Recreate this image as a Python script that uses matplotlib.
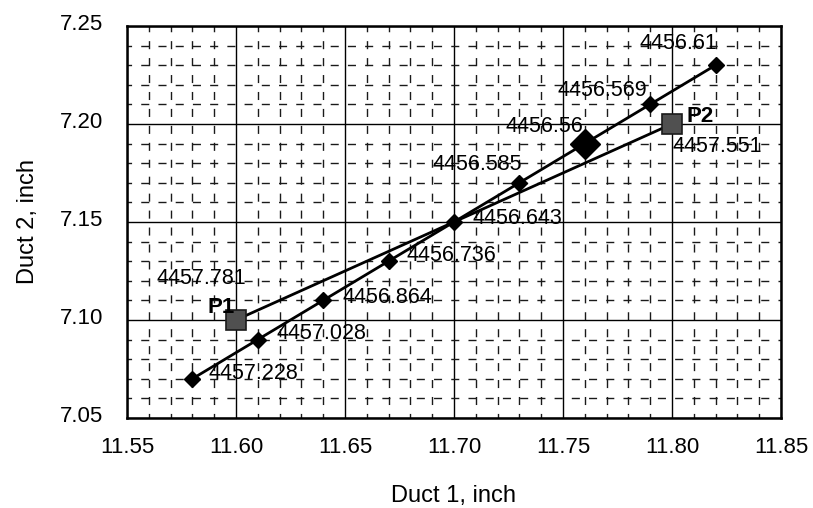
import matplotlib
matplotlib.use("Agg")
import matplotlib.pyplot as plt
import matplotlib.transforms as mtransforms
from matplotlib.ticker import MultipleLocator

plt.rcParams["font.family"] = ["Liberation Sans", "DejaVu Sans"]
plt.rcParams["lines.scale_dashes"] = False

# Optimization path through the design space
path_x = [11.58, 11.61, 11.64, 11.67, 11.70, 11.73, 11.76, 11.79, 11.82]
path_y = [7.07, 7.09, 7.11, 7.13, 7.15, 7.17, 7.19, 7.21, 7.23]
path_labels = ["4457.228", "4457.028", "4456.864", "4456.736", "4456.643",
               "4456.585", "4456.56", "4456.569", "4456.61"]
best_index = 6

# Straight line between the two end designs
end_x = [11.60, 11.80]
end_y = [7.10, 7.20]
end_names = ["P1", "P2"]
end_labels = ["4457.781", "4457.551"]

x_ticks = [11.55, 11.60, 11.65, 11.70, 11.75, 11.80, 11.85]
y_ticks = [7.05, 7.10, 7.15, 7.20, 7.25]

fig = plt.figure(figsize=(8.13, 5.08), dpi=100)
ax = fig.add_axes([0.1562, 0.1772, 0.8044, 0.7717])

ax.set_xlim(11.55, 11.85)
ax.set_ylim(7.05, 7.25)
ax.set_xticks(x_ticks)
ax.set_yticks(y_ticks)
ax.set_xticklabels([f"{v:.2f}" for v in x_ticks])
ax.set_yticklabels([f"{v:.2f}" for v in y_ticks])
ax.xaxis.set_minor_locator(MultipleLocator(0.01))
ax.yaxis.set_minor_locator(MultipleLocator(0.01))
ax.tick_params(which="both", length=0, labelsize=16)
ax.tick_params(axis="x", pad=14)
ax.tick_params(axis="y", pad=17)

# lift the y tick labels slightly
lift = mtransforms.ScaledTranslation(0, 3 / 72, fig.dpi_scale_trans)
for lbl in ax.get_yticklabels():
    lbl.set_transform(lbl.get_transform() + lift)

# Grid: solid major lines, dashed minor lines
ax.grid(which="major", color="black", linewidth=1.0)
ax.xaxis.grid(which="minor", color="#1a1a1a", linewidth=1.0,
              linestyle=(2.5, (5.8, 6.4)))
ax.yaxis.grid(which="minor", color="#1a1a1a", linewidth=1.0,
              linestyle=(2.5, (5.8, 6.6)))
ax.set_axisbelow(True)
for s in ax.spines.values():
    s.set_linewidth(1.8)

ax.set_xlabel("Duct 1, inch", fontsize=17, labelpad=19)
ax.set_ylabel("Duct 2, inch", fontsize=17, labelpad=15)

# End-point line and markers
ax.plot(end_x, end_y, color="black", linewidth=2.0, zorder=3)
ax.plot(end_x, end_y, linestyle="none", marker="s", markersize=14,
        markerfacecolor="#505050", markeredgecolor="#1a1a1a",
        markeredgewidth=1.2, zorder=4)

# Path line with diamond markers
ax.plot(path_x, path_y, color="black", linewidth=2.0, marker="D",
        markersize=8, zorder=5)
ax.plot([path_x[best_index]], [path_y[best_index]], linestyle="none",
        marker="D", markersize=15, color="black", zorder=6)

# Value labels for the path points (pixel offsets, alignment)
offsets = [(16, 5, "left"), (19, 6, "left"), (19, 3, "left"),
           (18, 6, "left"), (19, 3, "left"), (3, 18, "right"),
           (-2, 17, "right"), (-3, 14, "right"), (2, 22, "right")]
for x, y, lab, (dx, dy, ha) in zip(path_x, path_y, path_labels, offsets):
    ax.annotate(lab, (x, y), xytext=(dx, dy), textcoords="offset pixels",
                fontsize=15.5, va="center", ha=ha, zorder=7)

# End-point names and values
ax.annotate(end_names[0], (end_x[0], end_y[0]), xytext=(-1, 12),
            textcoords="offset pixels", fontsize=16, fontweight="bold",
            ha="right", va="center", zorder=7)
ax.annotate(end_labels[0], (end_x[0], end_y[0]), xytext=(10, 41),
            textcoords="offset pixels", fontsize=15.5, ha="right",
            va="center", zorder=7)
ax.annotate(end_names[1], (end_x[1], end_y[1]), xytext=(15, 7),
            textcoords="offset pixels", fontsize=16, fontweight="bold",
            ha="left", va="center", zorder=7)
ax.annotate(end_labels[1], (end_x[1], end_y[1]), xytext=(1, -23),
            textcoords="offset pixels", fontsize=15.5, ha="left",
            va="center", zorder=7)

fig.savefig("out.png", dpi=100, facecolor="white")
